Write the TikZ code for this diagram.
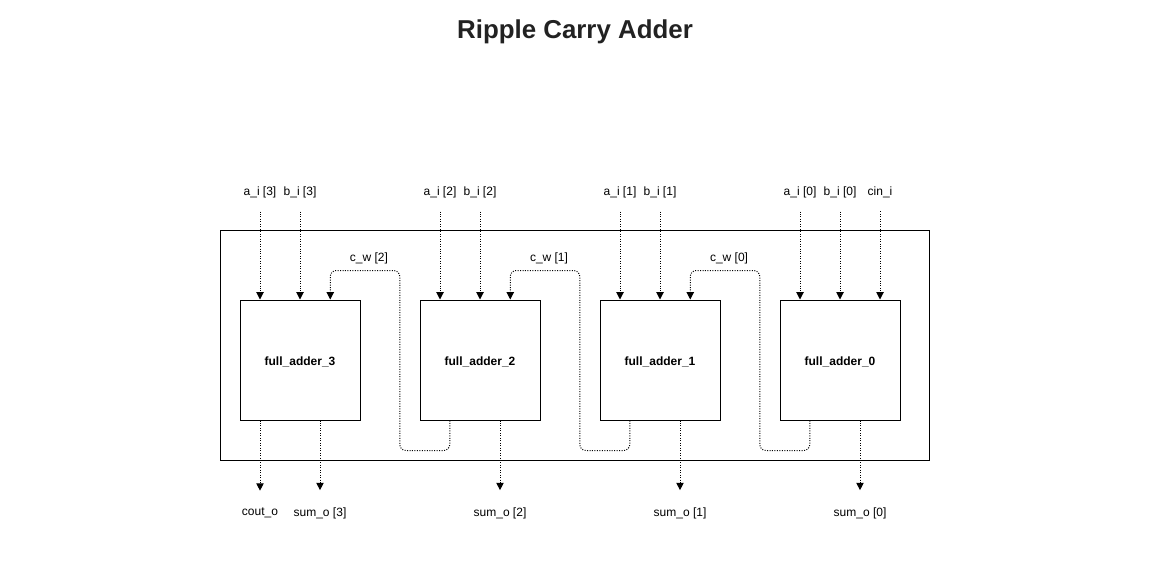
\documentclass[tikz,border=0pt]{standalone}
\usepackage{fontspec}
\setmainfont{Liberation Sans}
\usetikzlibrary{arrows.meta,calc}
\definecolor{titlegray}{RGB}{34,34,34}
\begin{document}
\begin{tikzpicture}[x=0.75pt,y=0.75pt,yscale=-1,xscale=1,
  adder/.style={draw,line width=0.75pt,minimum width=90pt,minimum height=90pt,inner sep=0pt,text height=9pt,text depth=1.4pt,font=\bfseries\fontsize{9}{11}\selectfont},
  lbl/.style={inner sep=0.75pt,yshift=-1.5pt,font=\fontsize{9}{11}\selectfont},
  sig/.style={line width=0.75pt,dash pattern=on 0.75pt off 1.1pt,-{Triangle[length=5.5pt,width=5.5pt]}},
  carry/.style={sig,rounded corners=4.5pt}]
\useasboundingbox (0,0) rectangle (1151,583);
% title
\node[text=titlegray,font=\bfseries\fontsize{19.4}{23}\selectfont] (title) at (575,32) {Ripple Carry Adder};
% outer box
\draw[line width=0.75pt] (220,230) rectangle (929,460);
% full adders
\node[adder] (fa3) at (300,360) {full\_adder\_3};
\node[adder] (fa2) at (480,360) {full\_adder\_2};
\node[adder] (fa1) at (660,360) {full\_adder\_1};
\node[adder] (fa0) at (840,360) {full\_adder\_0};
% inputs
\node[lbl] (ai3) at (260,190) {a\_i [3]};
\node[lbl] (bi3) at (300,190) {b\_i [3]};
\node[lbl] (ai2) at (440,190) {a\_i [2]};
\node[lbl] (bi2) at (480,190) {b\_i [2]};
\node[lbl] (ai1) at (620,190) {a\_i [1]};
\node[lbl] (bi1) at (660,190) {b\_i [1]};
\node[lbl] (ai0) at (800,190) {a\_i [0]};
\node[lbl] (bi0) at (840,190) {b\_i [0]};
\node[lbl] (cin) at (880,190) {cin\_i};
\draw[sig,shorten <=9.5pt] (ai3) -- (ai3 |- fa3.north);
\draw[sig,shorten <=9.5pt] (bi3) -- (bi3 |- fa3.north);
\draw[sig,shorten <=9.5pt] (ai2) -- (ai2 |- fa2.north);
\draw[sig,shorten <=9.5pt] (bi2) -- (bi2 |- fa2.north);
\draw[sig,shorten <=9.5pt] (ai1) -- (ai1 |- fa1.north);
\draw[sig,shorten <=9.5pt] (bi1) -- (bi1 |- fa1.north);
\draw[sig,shorten <=9.5pt] (ai0) -- (ai0 |- fa0.north);
\draw[sig,shorten <=9.5pt] (bi0) -- (bi0 |- fa0.north);
\draw[sig,shorten <=9.5pt] (cin) -- (cin |- fa0.north);
% carries
\node[lbl] (cw0) at (729,256) {c\_w [0]};
\node[lbl] (cw1) at (549,256) {c\_w [1]};
\node[lbl] (cw2) at (369,256) {c\_w [2]};
\draw[carry] ($(fa0.south west)!0.25!(fa0.south east)$) -- ++(0,30) -| ++(-50,-180) -| ($(fa1.north west)!0.75!(fa1.north east)$);
\draw[carry] ($(fa1.south west)!0.25!(fa1.south east)$) -- ++(0,30) -| ++(-50,-180) -| ($(fa2.north west)!0.75!(fa2.north east)$);
\draw[carry] ($(fa2.south west)!0.25!(fa2.south east)$) -- ++(0,30) -| ++(-50,-180) -| ($(fa3.north west)!0.75!(fa3.north east)$);
% outputs
\node[lbl] (cout) at (260,511) {cout\_o};
\node[lbl] (s3) at (320,511) {sum\_o [3]};
\node[lbl] (s2) at (500,511) {sum\_o [2]};
\node[lbl] (s1) at (680,511) {sum\_o [1]};
\node[lbl] (s0) at (860,511) {sum\_o [0]};
\draw[sig,shorten >=12pt] (fa3.south -| cout) -- (cout);
\draw[sig,shorten >=12pt] (fa3.south -| s3) -- (s3);
\draw[sig,shorten >=12pt] (fa2.south -| s2) -- (s2);
\draw[sig,shorten >=12pt] (fa1.south -| s1) -- (s1);
\draw[sig,shorten >=12pt] (fa0.south -| s0) -- (s0);
\end{tikzpicture}
\end{document}
